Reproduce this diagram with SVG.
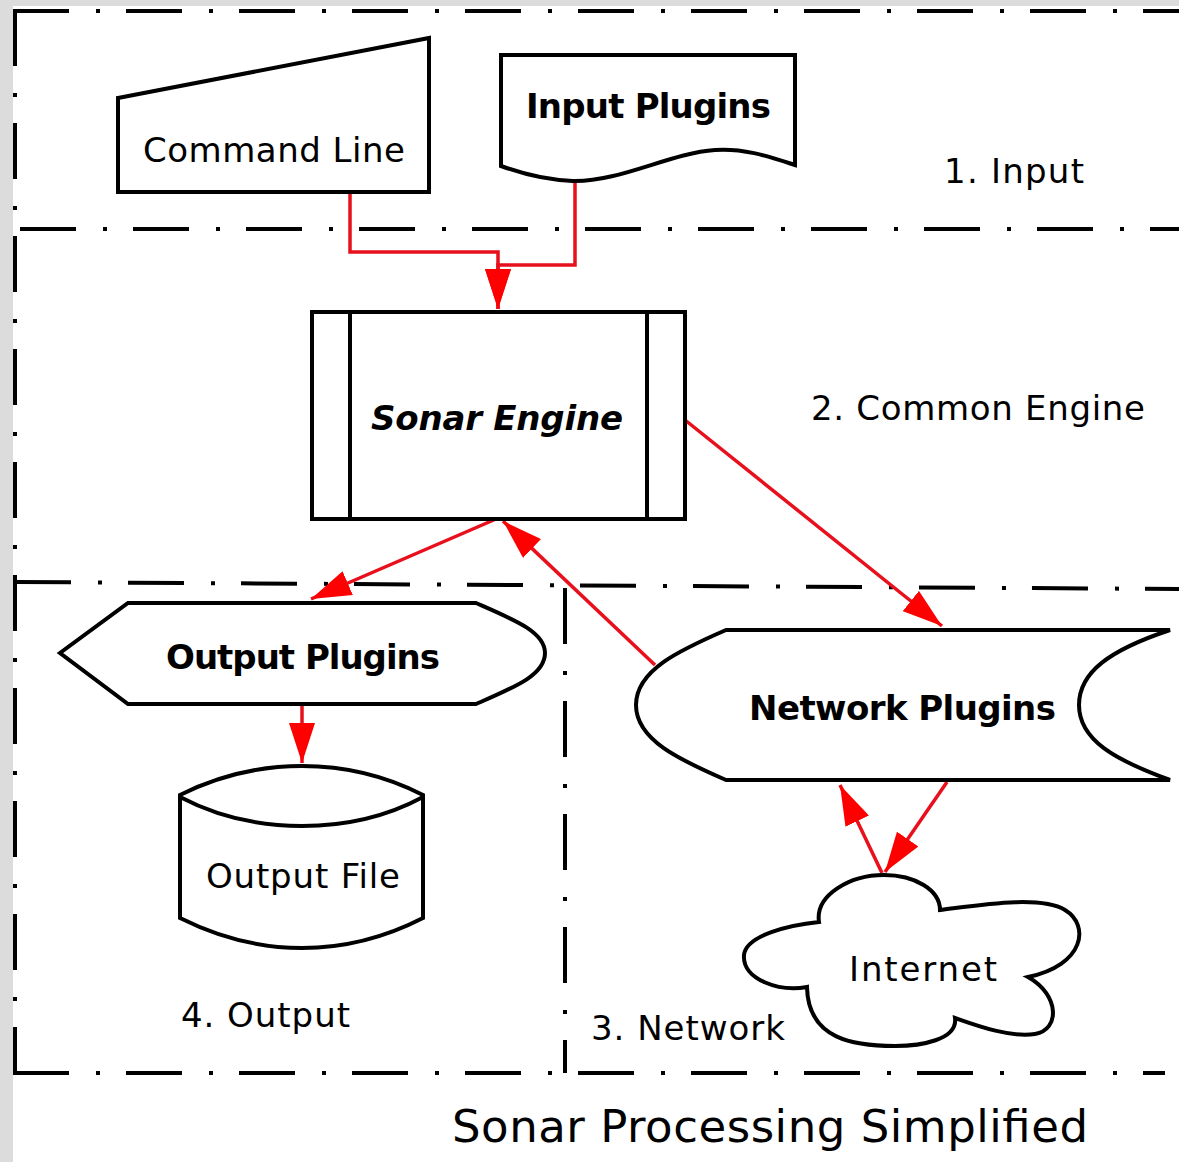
<svg xmlns="http://www.w3.org/2000/svg" width="1179" height="1162" viewBox="0 0 1179 1162">
<style>
  .shape{fill:#fff;stroke:#000;stroke-width:4;stroke-linejoin:miter}
  .zone{fill:none;stroke:#000;stroke-width:4;stroke-dasharray:56 27 4 26}
  .conn{fill:none;stroke:#e8101c;stroke-width:3.5;stroke-linejoin:miter}
  .lbl{font-family:"DejaVu Sans","Liberation Sans",sans-serif;font-size:34px;fill:#000}
  .b{font-weight:bold}
  .bi{font-weight:bold;font-style:italic}
</style>
<defs>
  <marker id="ah" markerUnits="userSpaceOnUse" viewBox="0 0 40 26" markerWidth="40" markerHeight="26" refX="40" refY="13" orient="auto">
    <path d="M0,0 L40,13 L0,26 Z" fill="#f00"/>
  </marker>
</defs>
<rect x="0" y="0" width="1179" height="1162" fill="#fff"/>
<rect x="0" y="0" width="13" height="1162" fill="#dcdcdc"/>
<rect x="0" y="0" width="1179" height="6" fill="#dcdcdc"/>

<g id="zones">
  <line class="zone" x1="13" y1="11" x2="1179" y2="11"/>
  <line class="zone" x1="15" y1="10" x2="15" y2="1075"/>
  <line class="zone" x1="20" y1="229" x2="1179" y2="229"/>
  <line class="zone" x1="15" y1="582" x2="1179" y2="589"/>
  <line class="zone" x1="565" y1="588" x2="565" y2="1073"/>
  <line class="zone" x1="13" y1="1073" x2="1165" y2="1073"/>
  <text class="lbl" x="944" y="183" textLength="140">1. Input</text>
  <text class="lbl" x="811" y="420" textLength="334">2. Common Engine</text>
  <text class="lbl" x="591" y="1040" textLength="194">3. Network</text>
  <text class="lbl" x="181" y="1027" textLength="169">4. Output</text>
</g>

<g id="connectors">
  <path class="conn" d="M350,192 V252 H498 V309" marker-end="url(#ah)"/>
  <path class="conn" d="M575,180 V265 H498 V309" marker-end="url(#ah)"/>
  <path class="conn" d="M496,519 L311,599" marker-end="url(#ah)"/>
  <path class="conn" d="M655,665 L503,521" marker-end="url(#ah)"/>
  <path class="conn" d="M685,420 L942,626" marker-end="url(#ah)"/>
  <path class="conn" d="M302,704 V763" marker-end="url(#ah)"/>
  <path class="conn" d="M882,873 L840,785" marker-end="url(#ah)"/>
  <path class="conn" d="M947,782 L885,872" marker-end="url(#ah)"/>
</g>

<g id="command-line">
  <polygon class="shape" points="118,98 429,38 429,192 118,192"/>
  <text class="lbl" x="143" y="162" textLength="262">Command Line</text>
</g>

<g id="input-plugins">
  <path class="shape" d="M501,55 H795 V165 C770,157 745,148 715,150 C670,153 620,182 573,181 C545,180 520,173 501,166 Z"/>
  <text class="lbl b" x="526" y="118" textLength="245">Input Plugins</text>
</g>

<g id="sonar-engine">
  <rect class="shape" x="312" y="312" width="373" height="207"/>
  <line class="shape" x1="350" y1="312" x2="350" y2="519"/>
  <line class="shape" x1="647" y1="312" x2="647" y2="519"/>
  <text class="lbl bi" x="371" y="430" textLength="252">Sonar Engine</text>
</g>

<g id="output-plugins">
  <path class="shape" d="M128,603 H476 C515,620 545,632 545,653 C545,675 515,687 476,704 H128 L60,653 Z"/>
  <text class="lbl b" x="166" y="669" textLength="274">Output Plugins</text>
</g>

<g id="output-file">
  <path class="shape" d="M180,795 C220,775 260,766 302,766 C344,766 384,775 423,795 L423,918 C384,938 344,948 302,948 C260,948 220,938 180,918 Z"/>
  <path class="shape" fill="none" d="M180,797 C220,818 260,826 302,826 C344,826 384,818 423,797"/>
  <text class="lbl" x="206" y="888" textLength="194">Output File</text>
</g>

<g id="network-plugins">
  <path class="shape" d="M726,630 L1170,630 C1110,650 1079,672 1079,705 C1079,740 1115,760 1170,780 L726,780 C680,760 636,740 636,705 C636,670 680,650 726,630 Z"/>
  <text class="lbl b" x="749" y="720" textLength="307">Network Plugins</text>
</g>

<g id="internet">
  <path class="shape" d="M819,922 C815,895 850,875 884,875 C915,875 940,890 940,910 C980,905 1040,895 1065,910 C1090,925 1085,965 1028,977 C1060,995 1060,1030 1035,1034 C1010,1038 975,1025 955,1018 C958,1040 920,1046 895,1046 C855,1046 808,1040 807,987 C780,992 742,980 744,955 C746,935 790,925 819,922 Z"/>
  <text class="lbl" x="849" y="981" textLength="148">Internet</text>
</g>

<g id="title">
  <text class="lbl" x="452" y="1142" style="font-size:45px" textLength="636">Sonar Processing Simplified</text>
</g>
</svg>
